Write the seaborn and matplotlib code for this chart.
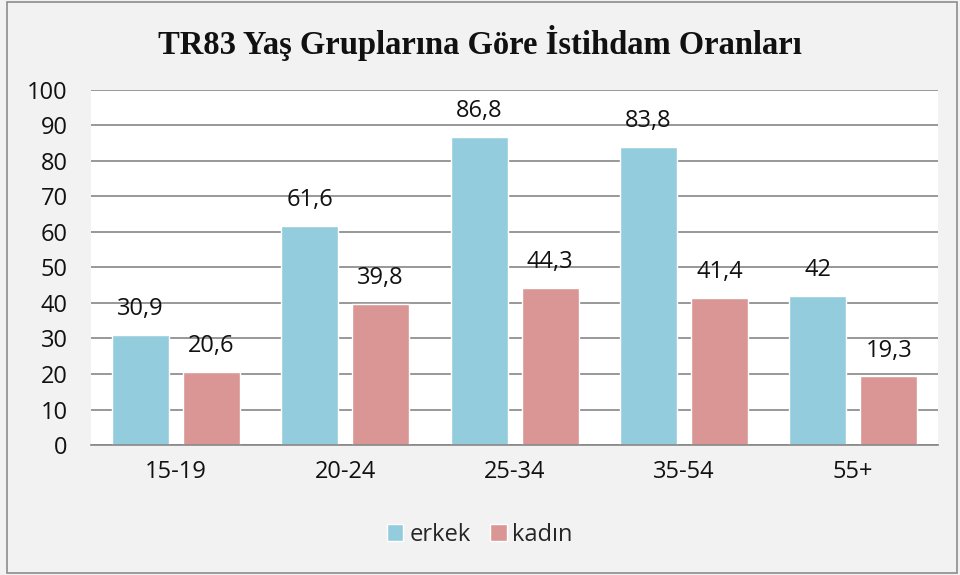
import pandas as pd
import matplotlib
matplotlib.use("Agg")
import matplotlib.pyplot as plt
import seaborn as sns

groups = ["15-19", "20-24", "25-34", "35-54", "55+"]
erkek = [30.9, 61.6, 86.8, 83.8, 42]
kadin = [20.6, 39.8, 44.3, 41.4, 19.3]
series_names = ["erkek", "kadın"]
colors = ["#93CDDD", "#D99694"]

df = pd.DataFrame({
    "grup": groups * 2,
    "oran": erkek + kadin,
    "cinsiyet": [series_names[0]] * len(groups) + [series_names[1]] * len(groups),
})

sns.set_style("white")
plt.rcParams["font.family"] = ["Open Sans", "DejaVu Sans"]

fig = plt.figure(figsize=(9.6, 5.75), dpi=100, facecolor="#F2F2F2")
fig.patches.append(plt.Rectangle((0.007, 0.003), 0.99, 0.994, transform=fig.transFigure,
                                 fill=False, edgecolor="#8C8C8C", linewidth=1.2))
ax = fig.add_axes([0.095, 0.226, 0.882, 0.618])

sns.barplot(data=df, x="grup", y="oran", hue="cinsiyet", palette=colors,
            width=0.838, gap=0.197, ax=ax, legend=True, saturation=1)

for cont in ax.containers:
    labels = [f"{v:g}".replace(".", ",") for v in cont.datavalues]
    ax.bar_label(cont, labels=labels, padding=10, fontsize=17, color="#111111")

ax.set_ylim(0, 100)
ax.set_yticks(range(0, 101, 10))
ax.set_xlim(-0.5, 4.5)
ax.yaxis.grid(True, color="#868686", linewidth=1.2)
ax.set_axisbelow(True)
for s in ["top", "right", "left"]:
    ax.spines[s].set_visible(False)
ax.spines["bottom"].set_color("#868686")
ax.spines["bottom"].set_linewidth(1.2)
ax.tick_params(axis="both", length=0, labelsize=17, colors="#111111")
ax.tick_params(axis="x", pad=11)
ax.tick_params(axis="y", pad=17)
ax.set_xlabel("")
ax.set_ylabel("")

leg = ax.legend(loc="center", ncol=2, frameon=False, fontsize=17, handlelength=0.68,
                handleheight=0.68, handletextpad=0.25, columnspacing=0.85)
leg.set_bbox_to_anchor((0.5, 0.07), transform=fig.transFigure)

fig.text(0.5, 0.925, "TR83 Yaş Gruplarına Göre İstihdam Oranları", ha="center", va="center",
         fontsize=23.5, fontweight="bold", family=["Liberation Serif", "DejaVu Serif"], color="#111111")

fig.savefig("out.png", dpi=100, facecolor=fig.get_facecolor())
